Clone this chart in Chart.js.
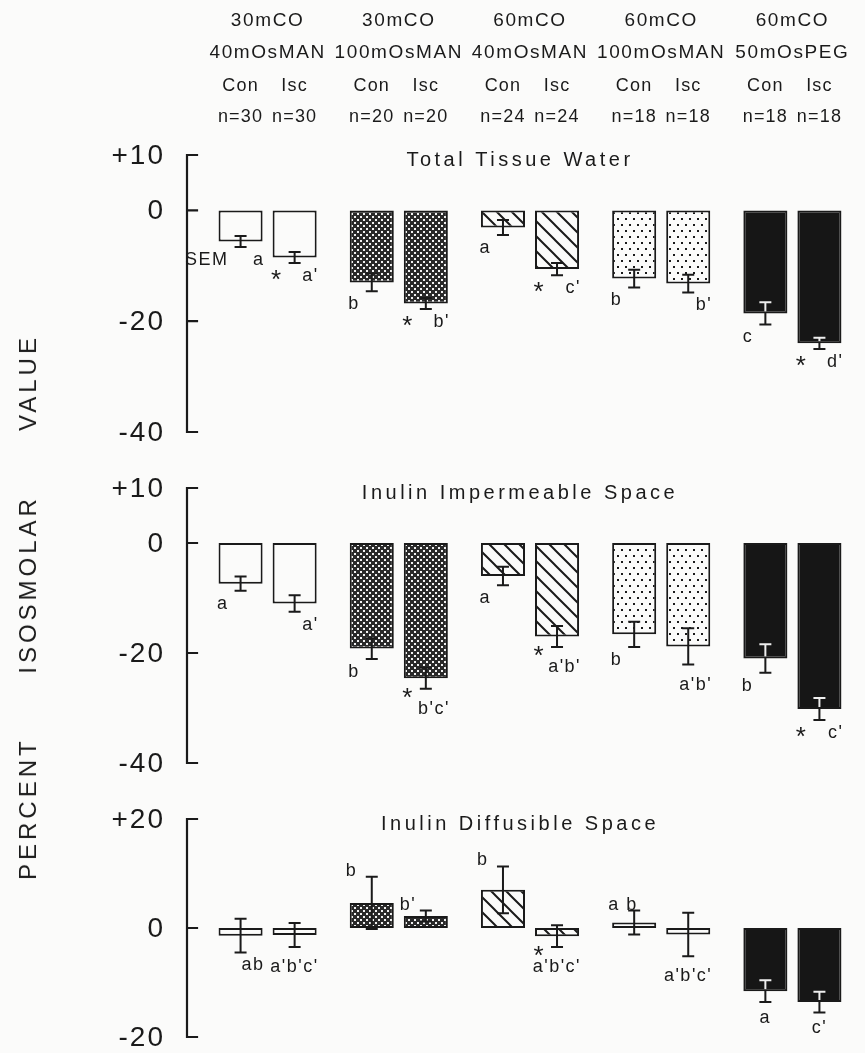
<!DOCTYPE html>
<html><head><meta charset="utf-8">
<script src="https://cdn.jsdelivr.net/npm/chart.js@4.4.1/dist/chart.umd.min.js"></script>
<style>
html,body{margin:0;padding:0;background:#fbfbfa;}
#wrap{position:relative;width:865px;height:1053px;overflow:hidden;}
canvas{position:absolute;left:0;}
#ytitle{position:absolute;left:28px;top:607px;transform:translate(-50%,-50%) rotate(-90deg);font:24px "Liberation Sans",Arial,sans-serif;letter-spacing:4px;white-space:pre;color:#1c1c1c;}
</style></head><body>
<div id="wrap">
<canvas id="c1" width="865" height="445" style="top:0"></canvas>
<canvas id="c2" width="865" height="330" style="top:445px"></canvas>
<canvas id="c3" width="865" height="278" style="top:775px"></canvas>
<div id="ytitle">PERCENT      ISOSMOLAR      VALUE</div>
</div>
<script>
// ---------- data ----------
const groupLine1 = ["30mCO","30mCO","60mCO","60mCO","60mCO"];
const groupLine2 = ["40mOsMAN","100mOsMAN","40mOsMAN","100mOsMAN","50mOsPEG"];
const seriesNames = ["Con","Isc"];
const nCon = [30,20,24,18,18];
const nIsc = [30,20,24,18,18];

const ttwTitle = "Total Tissue Water";
const ttwCon = [-5.6,-13.0,-3.1,-12.3,-18.6];
const ttwConSem = [1.0,1.6,1.35,1.6,2.0];
const ttwIsc = [-8.5,-16.8,-10.6,-13.2,-24.0];
const ttwIscSem = [1.0,1.0,1.1,1.6,1.0];
const ttwConNotes = [{bl:"SEM",br:"a"},{bl:"b"},{bl:"a"},{bl:"b"},{bl:"c"}];
const ttwIscNotes = [{bl:"*",br:"a'"},{bl:"*",br:"b'"},{bl:"*",br:"c'"},{br:"b'"},{bl:"*",br:"d'"}];

const iisTitle = "Inulin Impermeable Space";
const iisCon = [-7.4,-19.2,-6.0,-16.6,-21.0];
const iisConSem = [1.3,1.9,1.7,2.3,2.6];
const iisIsc = [-11.0,-24.6,-17.0,-18.8,-30.2];
const iisIscSem = [1.5,1.9,1.9,3.3,2.0];
const iisConNotes = [{bl:"a"},{bl:"b"},{bl:"a"},{bl:"b"},{bl:"b"}];
const iisIscNotes = [{br:"a'"},{ul:"*",bb:"b'c'"},{ul:"*",bb:"a'b'"},{bb:"a'b'"},{bl:"*",br:"c'"}];

const idsTitle = "Inulin Diffusible Space";
const idsCon = [-1.4,4.6,7.0,1.0,-11.6];
const idsConSem = [3.1,4.8,4.3,2.2,2.0];
const idsIsc = [-1.3,2.2,-1.5,-1.2,-13.6];
const idsIscSem = [2.2,1.0,2.0,4.0,1.9];
const idsConNotes = [{br:"ab"},{tl:"b"},{tl:"b"},{tl:"a b"},{bc:"a"}];
const idsIscNotes = [{bb:"a'b'c'"},{tl:"b'"},{ul:"*",bb:"a'b'c'"},{bb:"a'b'c'"},{bc:"c'"}];

const tickVals12 = [10,0,-20,-40];
const tickLabels12 = ["+10","0","-20","-40"];
const tickVals3 = [20,0,-20];
const tickLabels3 = ["+20","0","-20"];

// ---------- style ----------
const FONT = '"Liberation Sans", Arial, sans-serif';
const INK = '#1a1a1a';
const PAPER = '#fbfbfa';
const groupFill = ['open','checker','hatch','dots','solid'];

function makePattern(kind){
  if(kind==='open') return PAPER;
  if(kind==='solid') return '#161616';
  const c = document.createElement('canvas'); const x = c.getContext('2d');
  if(kind==='checker'){ c.width=6;c.height=6; x.fillStyle='#2a2a2a'; x.fillRect(0,0,6,6); x.fillStyle='#f2f2f2'; x.fillRect(0,0,2,2); x.fillRect(3,3,2,2); }
  if(kind==='hatch'){ const s=15; c.width=s;c.height=s; x.fillStyle=PAPER; x.fillRect(0,0,s,s); x.strokeStyle=INK; x.lineWidth=2; x.beginPath(); x.moveTo(-3,-3); x.lineTo(s+3,s+3); x.moveTo(-3,s-3); x.lineTo(3,s+3); x.moveTo(s-3,-3); x.lineTo(s+3,3); x.stroke(); }
  if(kind==='dots'){ c.width=8;c.height=12; x.fillStyle=PAPER; x.fillRect(0,0,8,12); x.fillStyle=INK; x.fillRect(1,2,2,2); x.fillRect(5,8,2,2); }
  return x.createPattern(c,'repeat');
}
const fills = groupFill.map(makePattern);

function setSpacing(ctx, px){ if('letterSpacing' in ctx) ctx.letterSpacing = px+'px'; }

const bracketPlugin = {
  id:'bracket',
  afterDraw(chart, args, opts){
    const {ctx, chartArea} = chart; const y = chart.scales.y;
    const ax = chartArea.left - 15;
    const top = y.getPixelForValue(Math.max(...opts.ticks)), bot = y.getPixelForValue(Math.min(...opts.ticks));
    ctx.save(); ctx.strokeStyle=INK; ctx.lineWidth=2.2; ctx.lineCap='square';
    ctx.beginPath(); ctx.moveTo(ax, top); ctx.lineTo(ax, bot);
    opts.ticks.forEach(t=>{const py=y.getPixelForValue(t); ctx.moveTo(ax,py); ctx.lineTo(ax+10,py);});
    ctx.stroke();
    ctx.fillStyle=INK; ctx.font='28px '+FONT; ctx.textAlign='right'; ctx.textBaseline='middle'; setSpacing(ctx,2);
    opts.ticks.forEach((t,i)=>ctx.fillText(opts.labels[i], ax-22, y.getPixelForValue(t)+1));
    ctx.restore();
  }
};

const titlePlugin = {
  id:'ptitle',
  afterDraw(chart, args, opts){
    const {ctx, chartArea} = chart;
    ctx.save(); ctx.fillStyle=INK; ctx.font='20px '+FONT; ctx.textAlign='center'; ctx.textBaseline='middle'; setSpacing(ctx,3.5);
    ctx.fillText(opts.text, (chartArea.left+chartArea.right)/2 - 10, chartArea.top + 5);
    ctx.restore();
  }
};

const errPlugin = {
  id:'errbars',
  afterDatasetsDraw(chart){
    const {ctx} = chart; const y = chart.scales.y;
    chart.data.datasets.forEach((ds, di)=>{
      chart.getDatasetMeta(di).data.forEach((bar, i)=>{
        const v = ds.data[i], e = ds.sem[i];
        const x = bar.x, yt = y.getPixelForValue(v+e), yb = y.getPixelForValue(v-e);
        const draw = (col)=>{ ctx.strokeStyle=col; ctx.lineWidth=2; ctx.beginPath(); ctx.moveTo(x,yt); ctx.lineTo(x,yb); ctx.moveTo(x-6,yt); ctx.lineTo(x+6,yt); ctx.moveTo(x-6,yb); ctx.lineTo(x+6,yb); ctx.stroke(); };
        ctx.save(); draw(INK);
        if(groupFill[i]==='solid'){
          const l = bar.x - bar.width/2 + 2, t = Math.min(bar.y,bar.base)+2, h = Math.abs(bar.base-bar.y)-4;
          ctx.beginPath(); ctx.rect(l,t,bar.width-4,h); ctx.clip(); draw('#eeeeee');
        }
        ctx.restore();
      });
    });
  }
};

function noteText(ctx, txt, x, y, align){
  ctx.textAlign = align;
  if(txt === '*'){ ctx.font='26px '+FONT; ctx.fillText(txt, x, y+5); ctx.font='18px '+FONT; }
  else ctx.fillText(txt, x, y);
}

const notesPlugin = {
  id:'notes',
  afterDraw(chart, args, opts){
    const {ctx} = chart; const y = chart.scales.y;
    ctx.save(); ctx.fillStyle=INK; ctx.font='18px '+FONT; ctx.textBaseline='middle'; setSpacing(ctx,1.5);
    chart.data.datasets.forEach((ds, di)=>{
      chart.getDatasetMeta(di).data.forEach((bar, i)=>{
        const n = opts.notes[di][i]; if(!n) return;
        const v = ds.data[i], e = ds.sem[i];
        const left = bar.x - bar.width/2, right = bar.x + bar.width/2;
        const low = Math.max(bar.base, bar.y, y.getPixelForValue(v-e));
        const errTop = y.getPixelForValue(v+e);
        if(n.bl) noteText(ctx, n.bl, left+10, low+13, 'right');
        if(n.ul) noteText(ctx, n.ul, left+10, low+5, 'right');
        if(n.br) noteText(ctx, n.br, right+2, low+13, 'right');
        if(n.bb) noteText(ctx, n.bb, right+2, low+20, 'right');
        if(n.bc) noteText(ctx, n.bc, bar.x, low+16, 'center');
        if(n.tl) noteText(ctx, n.tl, left-4, errTop-6, 'left');
      });
    });
    ctx.restore();
  }
};

const headerPlugin = {
  id:'header',
  afterDraw(chart){
    const {ctx} = chart; const xs = chart.scales.x;
    ctx.save(); ctx.fillStyle=INK; ctx.font='19px '+FONT; ctx.textAlign='center'; ctx.textBaseline='middle'; setSpacing(ctx,1.6);
    groupLine1.forEach((t,i)=>ctx.fillText(t, xs.getPixelForValue(i), 21));
    groupLine2.forEach((t,i)=>ctx.fillText(t, xs.getPixelForValue(i), 53));
    const m0 = chart.getDatasetMeta(0).data, m1 = chart.getDatasetMeta(1).data;
    ctx.font='18px '+FONT; setSpacing(ctx,1.2);
    m0.forEach((b,i)=>{ ctx.fillText(seriesNames[0], b.x, 86); ctx.fillText('n='+nCon[i], b.x, 117); });
    m1.forEach((b,i)=>{ ctx.fillText(seriesNames[1], b.x, 86); ctx.fillText('n='+nIsc[i], b.x, 117); });
    ctx.restore();
  }
};

function makeChart(id, con, conSem, isc, iscSem, conNotes, iscNotes, title, ticks, labels, ymin, ymax, padTop, padBottom, extra){
  const ds = (name, data, sem) => ({label:name, data, sem, backgroundColor:fills, borderColor:INK, borderWidth:2, borderSkipped:false, categoryPercentage:0.824, barPercentage:0.815});
  return new Chart(document.getElementById(id), {
    type:'bar',
    data:{ labels: groupLine1.map((g,i)=>g+' '+groupLine2[i]), datasets:[ds(seriesNames[0],con,conSem), ds(seriesNames[1],isc,iscSem)] },
    options:{
      responsive:false, animation:false, devicePixelRatio:1,
      layout:{padding:{left:202, right:7, top:padTop, bottom:padBottom}},
      scales:{ x:{display:false, offset:true}, y:{display:false, min:ymin, max:ymax} },
      plugins:{ legend:{display:false}, tooltip:{enabled:false},
        bracket:{ticks, labels}, ptitle:{text:title}, notes:{notes:[conNotes, iscNotes]} }
    },
    plugins:[bracketPlugin, titlePlugin, errPlugin, notesPlugin].concat(extra||[])
  });
}

makeChart('c1', ttwCon, ttwConSem, ttwIsc, ttwIscSem, ttwConNotes, ttwIscNotes, ttwTitle, tickVals12, tickLabels12, -40, 10, 155, 13, [headerPlugin]);
makeChart('c2', iisCon, iisConSem, iisIsc, iisIscSem, iisConNotes, iisIscNotes, iisTitle, tickVals12, tickLabels12, -40, 10, 43, 12);
makeChart('c3', idsCon, idsConSem, idsIsc, idsIscSem, idsConNotes, idsIscNotes, idsTitle, tickVals3, tickLabels3, -20, 20, 44, 16);
</script>
</body></html>
